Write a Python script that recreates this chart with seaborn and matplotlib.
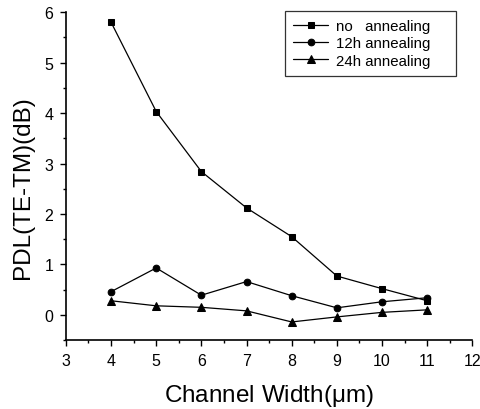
import matplotlib
matplotlib.use("Agg")
import matplotlib.pyplot as plt
from matplotlib.ticker import MultipleLocator
import pandas as pd
import seaborn as sns

channel_width = [4, 5, 6, 7, 8, 9, 10, 11]
no_annealing = [5.80, 4.03, 2.84, 2.12, 1.55, 0.77, 0.52, 0.28]
annealing_12h = [0.46, 0.93, 0.39, 0.66, 0.38, 0.14, 0.26, 0.34]
annealing_24h = [0.28, 0.18, 0.15, 0.08, -0.14, -0.04, 0.05, 0.10]
series_names = ["no   annealing", "12h annealing", "24h annealing"]

df = pd.concat([
    pd.DataFrame({"width": channel_width, "pdl": vals, "series": name})
    for name, vals in zip(series_names, [no_annealing, annealing_12h, annealing_24h])
], ignore_index=True)

sns.set_theme(style="ticks")
plt.rcParams["font.family"] = ["Liberation Sans", "DejaVu Sans"]
plt.rcParams["mathtext.fontset"] = "custom"
plt.rcParams["mathtext.rm"] = "Liberation Sans"
plt.rcParams["mathtext.it"] = "Liberation Sans"
plt.rcParams["text.color"] = "black"
plt.rcParams["axes.labelcolor"] = "black"

fig = plt.figure(figsize=(4.81, 4.10), dpi=100)
ax = fig.add_axes([0.137, 0.168, 0.845, 0.8])

marker_map = {series_names[0]: "s", series_names[1]: "o", series_names[2]: "^"}
sns.lineplot(data=df, x="width", y="pdl", hue="series", style="series",
             markers=marker_map, dashes=False,
             palette=["black"] * 3, linewidth=0.9, markersize=5,
             markeredgecolor="black", ax=ax)

# per-marker sizes: small squares, medium circles, larger triangles
size_for = {"s": 4.2, "o": 4.8, "^": 6.0}
for ln in ax.lines:
    m = ln.get_marker()
    if m in size_for:
        ln.set_markersize(size_for[m])

ax.set_xlim(3, 12)
ax.set_ylim(-0.5, 6)
ax.xaxis.set_major_locator(MultipleLocator(1))
ax.xaxis.set_minor_locator(MultipleLocator(0.5))
ax.set_yticks([0, 1, 2, 3, 4, 5, 6])
ax.yaxis.set_minor_locator(MultipleLocator(0.5))
ax.tick_params(axis="both", which="major", direction="out", length=4, width=1,
               labelsize=11.5, color="black", labelcolor="black", pad=5)
ax.tick_params(axis="both", which="minor", direction="out", length=2.5, width=1,
               color="black")

for side in ["top", "right"]:
    ax.spines[side].set_visible(False)
for side in ["left", "bottom"]:
    ax.spines[side].set_color("black")
    ax.spines[side].set_linewidth(1.2)

ax.set_xlabel("Channel Width($\\mu$m)", fontsize=17.5, labelpad=10)
ax.set_ylabel("PDL(TE-TM)(dB)", fontsize=17.5)
ax.yaxis.set_label_coords(-0.078, 0.469)

leg = ax.legend(loc="upper left", bbox_to_anchor=(0.539, 0.0, 0.4206, 1.004),
                mode="expand", fontsize=10.8,
                frameon=True, fancybox=False, edgecolor="black",
                handlelength=2.33, handletextpad=0.53, borderpad=0.55,
                borderaxespad=0.0, labelspacing=0.22, title=None)
leg.get_frame().set_linewidth(0.9)
for h in leg.legend_handles:
    m = h.get_marker()
    if m in size_for:
        h.set_markersize(size_for[m])

fig.savefig("out.png", dpi=100)
